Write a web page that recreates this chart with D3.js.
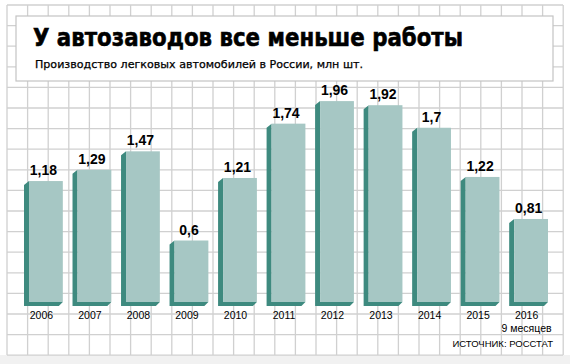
<!DOCTYPE html>
<html>
<head>
<meta charset="utf-8">
<script src="https://cdn.jsdelivr.net/npm/d3@7"></script>
<style>
  html, body { margin: 0; padding: 0; background: #fff; }
  svg { display: block; }
</style>
</head>
<body>
<script>
var years = ["2006", "2007", "2008", "2009", "2010", "2011", "2012", "2013", "2014", "2015", "2016"];
var values = [1.18, 1.29, 1.47, 0.6, 1.21, 1.74, 1.96, 1.92, 1.7, 1.22, 0.81];
var yearNotes = {"2016": "9 месяцев"};
var titleText = "У автозаводов все меньше работы";
var subtitleText = "Производство легковых автомобилей в России, млн шт.";
var sourceText = "ИСТОЧНИК: РОССТАТ";

var width = 570, height = 364;
var side = 5;      // ширина тёмной боковой грани
var depth = 4;     // высота нижней грани

var svg = d3.select("body").append("svg")
  .attr("width", width)
  .attr("height", height);

// фон: светлая полоса снизу
svg.append("rect").attr("x", 0).attr("y", 355).attr("width", width).attr("height", 9).attr("fill", "#f1f1f1");

// сетка
var gridG = svg.append("g").attr("stroke", "#d0d0d0").attr("stroke-width", 1.3);
var gx = d3.range(0, 28).map(function (i) { return 7 + i * 20.6; });
var gy = d3.range(0, 18).map(function (i) { return 5 + i * 20.6; });
gridG.selectAll("line.v").data(gx).enter().append("line")
  .attr("class", "v")
  .attr("x1", function (d) { return d; }).attr("x2", function (d) { return d; })
  .attr("y1", 5).attr("y2", 355);
gridG.selectAll("line.h").data(gy).enter().append("line")
  .attr("class", "h")
  .attr("x1", 7).attr("x2", 563)
  .attr("y1", function (d) { return d; }).attr("y2", function (d) { return d; });

// белая плашка с заголовком
svg.append("rect")
  .attr("x", 16).attr("y", 16).attr("width", 537).attr("height", 65)
  .attr("fill", "#fff").attr("stroke", "#c4c4c4").attr("stroke-width", 1.2);

svg.append("text")
  .attr("x", 33).attr("y", 46)
  .attr("font-family", "DejaVu Sans").attr("font-weight", "bold").attr("font-size", 24)
  .attr("textLength", 430).attr("lengthAdjust", "spacingAndGlyphs")
  .attr("fill", "#000").attr("stroke", "#000").attr("stroke-width", 0.6)
  .text(titleText);

svg.append("text")
  .attr("x", 35).attr("y", 68)
  .attr("font-family", "DejaVu Sans").attr("font-size", 10.5)
  .attr("textLength", 328).attr("lengthAdjust", "spacingAndGlyphs")
  .attr("fill", "#000").attr("stroke", "#000").attr("stroke-width", 0.25)
  .text(subtitleText);

// шкалы
var x = d3.scaleBand().domain(years).range([24, 548]).paddingInner(0.2).paddingOuter(0);
var y = d3.scaleLinear().domain([0, 2]).range([302, 97]);

var barG = svg.append("g").attr("id", "bars");
var bars = barG.selectAll("g.bar").data(years).enter().append("g").attr("class", "bar");

bars.append("polygon")
  .attr("fill", "#3e8a7f")
  .attr("points", function (d, i) {
    var x0 = x(d) + side, x1 = x(d) + x.bandwidth();
    var top = y(values[i]), bot = y(0);
    return [[x0 - side, top + 4], [x0, top], [x0, bot], [x1, bot], [x1 - 4, bot + depth], [x0 - side, bot + depth]].join(" ");
  });

bars.append("rect")
  .attr("fill", "#a6c7c4")
  .attr("x", function (d) { return x(d) + side; })
  .attr("y", function (d, i) { return y(values[i]); })
  .attr("width", x.bandwidth() - side)
  .attr("height", function (d, i) { return y(0) - y(values[i]); });

// подписи значений
bars.append("text")
  .attr("x", function (d) { return x(d) + x.bandwidth() / 2; })
  .attr("y", function (d, i) { return y(values[i]) - 6; })
  .attr("text-anchor", "middle")
  .attr("font-family", "Liberation Sans").attr("font-weight", "bold").attr("font-size", 14)
  .attr("fill", "#000")
  .text(function (d, i) { return String(values[i]).replace(".", ","); });

// подписи годов
bars.append("text")
  .attr("x", function (d) { return x(d) + x.bandwidth() / 2 - 2; })
  .attr("y", 319)
  .attr("text-anchor", "middle")
  .attr("font-family", "Liberation Sans").attr("font-size", 10.5)
  .attr("fill", "#000")
  .text(function (d) { return d; });

bars.filter(function (d) { return yearNotes[d]; }).append("text")
  .attr("x", function (d) { return x(d) + x.bandwidth() / 2 - 2; })
  .attr("y", 332)
  .attr("text-anchor", "middle")
  .attr("font-family", "Liberation Sans").attr("font-size", 10.5)
  .attr("fill", "#000")
  .text(function (d) { return yearNotes[d]; });

svg.append("text")
  .attr("x", 553).attr("y", 347)
  .attr("text-anchor", "end")
  .attr("font-family", "Liberation Sans").attr("font-size", 9.5)
  .attr("fill", "#000")
  .text(sourceText);
</script>
</body>
</html>
